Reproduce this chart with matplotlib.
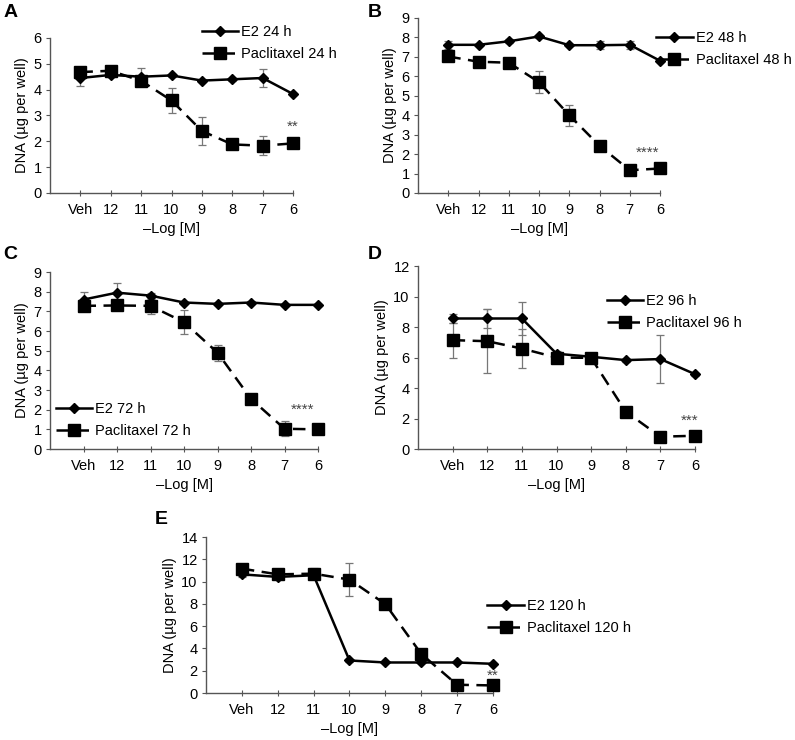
import matplotlib.pyplot as plt
import numpy as np

plt.rcParams['font.family'] = ['Liberation Sans', 'DejaVu Sans']
plt.rcParams['font.size'] = 10.5

cats = ['Veh', '12', '11', '10', '9', '8', '7', '6']

# ---- A: 24 h ----
e2_24 = [4.45, 4.57, 4.5, 4.55, 4.35, 4.4, 4.45, 3.83]
e2_24_err = [0.3, 0.1, 0.35, 0.05, 0.05, 0.05, 0.35, 0.05]
pac_24 = [4.68, 4.73, 4.34, 3.58, 2.4, 1.88, 1.83, 1.92]
pac_24_err = [0.1, 0.05, 0.1, 0.47, 0.55, 0.1, 0.37, 0.1]

# ---- B: 48 h ----
e2_48 = [7.62, 7.62, 7.8, 8.05, 7.6, 7.6, 7.62, 6.8]
e2_48_err = [0.2, 0.05, 0.1, 0.1, 0.05, 0.2, 0.2, 0.05]
pac_48 = [7.02, 6.75, 6.7, 5.7, 4.0, 2.43, 1.17, 1.26]
pac_48_err = [0.1, 0.05, 0.05, 0.55, 0.53, 0.25, 0.1, 0.1]

# ---- C: 72 h ----
e2_72 = [7.6, 7.95, 7.8, 7.45, 7.38, 7.45, 7.33, 7.33]
e2_72_err = [0.38, 0.5, 0.15, 0.05, 0.05, 0.1, 0.05, 0.05]
pac_72 = [7.28, 7.3, 7.28, 6.45, 4.9, 2.55, 1.03, 1.0]
pac_72_err = [0.2, 0.05, 0.4, 0.6, 0.4, 0.1, 0.38, 0.05]

# ---- D: 96 h ----
e2_96 = [8.56, 8.56, 8.56, 6.25, 6.05, 5.83, 5.9, 4.91]
e2_96_err = [0.3, 0.65, 1.1, 0.2, 0.1, 0.1, 1.6, 0.1]
pac_96 = [7.14, 7.07, 6.59, 6.0, 5.98, 2.45, 0.81, 0.87]
pac_96_err = [1.15, 2.1, 1.26, 0.3, 0.1, 0.1, 0.1, 0.1]

# ---- E: 120 h ----
e2_120 = [10.65, 10.42, 10.57, 2.92, 2.74, 2.74, 2.74, 2.62]
e2_120_err = [0.2, 0.1, 0.2, 0.1, 0.05, 0.05, 0.05, 0.05]
pac_120 = [11.16, 10.65, 10.71, 10.18, 7.98, 3.51, 0.74, 0.68]
pac_120_err = [0.2, 0.1, 0.5, 1.45, 0.2, 0.2, 0.1, 0.05]

panels = [
    # letter, rect (l, b, w, h), e2, e2err, pac, pacerr, hours, ymax, ystep, legend, stars, star pos, letter pos
    ('A', [0.0629, 0.7392, 0.3057, 0.2095], e2_24, e2_24_err, pac_24, pac_24_err,
     '24 h', 6, 1, dict(loc='upper left', bbox_to_anchor=(0.60, 1.12)), '**', (7.0, 2.3), (0.004, 0.995)),
    ('B', [0.5258, 0.7392, 0.3044, 0.2365], e2_48, e2_48_err, pac_48, pac_48_err,
     '48 h', 9, 1, dict(loc='upper left', bbox_to_anchor=(0.96, 0.96)), '****', (6.6, 1.7), (0.463, 0.995)),
    ('C', [0.0629, 0.3932, 0.3371, 0.2392], e2_72, e2_72_err, pac_72, pac_72_err,
     '72 h', 9, 1, dict(loc='lower left', bbox_to_anchor=(0.0, 0.03)), '****', (6.55, 1.65), (0.004, 0.668)),
    ('D', [0.5258, 0.3932, 0.3484, 0.2473], e2_96, e2_96_err, pac_96, pac_96_err,
     '96 h', 12, 2, dict(loc='upper left', bbox_to_anchor=(0.66, 0.88)), '***', (6.85, 1.4), (0.463, 0.668)),
    ('E', [0.2591, 0.0635, 0.361, 0.2108], e2_120, e2_120_err, pac_120, pac_120_err,
     '120 h', 14, 2, dict(loc='upper left', bbox_to_anchor=(0.96, 0.64)), '**', (7.0, 0.95), (0.195, 0.31)),
]

fig = plt.figure(figsize=(7.95, 7.40), dpi=100)
x = np.arange(len(cats))
axcol = '#555555'

for letter, rect, e2, e2err, pac, pacerr, hrs, ymax, ystep, leg, stars, spos, lpos in panels:
    ax = fig.add_axes(rect)
    for yv, ye in [(pac, pacerr), (e2, e2err)]:
        eb = ax.errorbar(x, yv, yerr=ye, fmt='none', ecolor='#777777', elinewidth=0.9,
                         capsize=3, capthick=0.9, zorder=2)
        for art in eb.lines[1] + eb.lines[2]:
            art.set_clip_on(False)
    ax.plot(x, e2, color='black', lw=1.8, marker='D', ms=5, label='E2 ' + hrs,
            zorder=3, clip_on=False)
    ax.plot(x, pac, color='black', lw=1.8, ls=(0, (5, 3)), marker='s', ms=8.5,
            label='Paclitaxel ' + hrs, zorder=3, clip_on=False)
    ax.text(spos[0], spos[1], stars, ha='center', va='bottom', fontsize=11,
            color='#444444', zorder=4)

    ax.set_xlim(-1, 7)
    ax.set_ylim(0, ymax)
    ax.set_xticks(x)
    ax.set_xticklabels(cats)
    ax.set_yticks(np.arange(0, ymax + 0.1, ystep))
    for s in ['top', 'right']:
        ax.spines[s].set_visible(False)
    for s in ['left', 'bottom']:
        ax.spines[s].set_color(axcol)
        ax.spines[s].set_linewidth(1.0)
    ax.tick_params(axis='x', direction='inout', length=5, color=axcol, labelsize=10.5, pad=5)
    ax.tick_params(axis='y', direction='out', length=3, color=axcol, labelsize=10.5, pad=3)
    ax.set_xlabel('\u2013Log [M]', fontsize=10.5, labelpad=3)
    ax.set_ylabel('DNA (\u00b5g per well)', fontsize=10.5, labelpad=3)

    ax.legend(frameon=False, fontsize=10.5, handlelength=2.5, handletextpad=0.2,
              borderaxespad=0, labelspacing=0.55, **leg)
    fig.text(lpos[0], lpos[1], letter, fontsize=14, fontweight='bold', va='top', ha='left')

fig.savefig('out.png', dpi=100)
